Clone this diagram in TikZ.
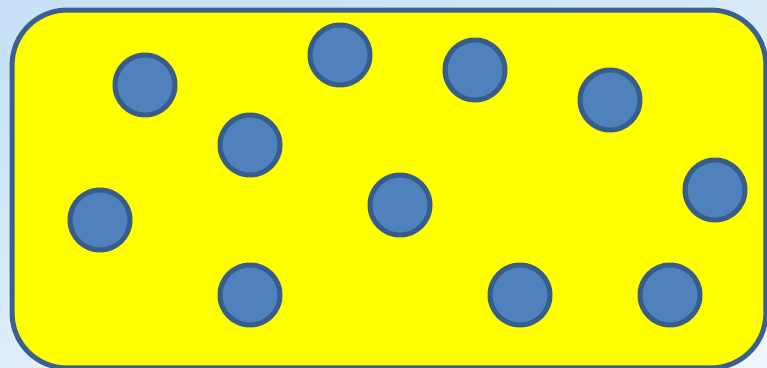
\documentclass[tikz,border=0pt]{standalone}
\usepackage{tikz}
\definecolor{BallBlue}{RGB}{79,129,189}
\definecolor{BallEdge}{RGB}{56,93,138}
\definecolor{TrayYellow}{RGB}{255,255,0}
\definecolor{TrayEdge}{RGB}{59,95,143}
\definecolor{SkyTop}{RGB}{200,225,246}
\definecolor{SkyLow}{RGB}{238,246,251}
\tikzset{
  tray/box/.style={
    draw=TrayEdge,
    line width=0.1cm,
    rounded corners=1.1cm,
    fill=TrayYellow,
    minimum width=15.08cm,
    minimum height=7.16cm,
    inner sep=0pt
  },
  tray/ball/.style={
    circle,
    draw=BallEdge,
    line width=0.1cm,
    fill=BallBlue,
    minimum size=1.2cm,
    inner sep=0pt
  }
}

\begin{document}
\begin{tikzpicture}[x=0.02cm,y=-0.02cm]
  \shade[top color=SkyTop,bottom color=SkyLow,shading angle=20] (0,0) rectangle (767,368);
  \useasboundingbox (0,0) rectangle (767,368);
  \node[tray/box] (tray) at (389,189) {};
  \node[tray/ball] (b1) at (145,85) {};
  \node[tray/ball] (b2) at (340,55) {};
  \node[tray/ball] (b3) at (475,70) {};
  \node[tray/ball] (b4) at (610,100) {};
  \node[tray/ball] (b5) at (250,145) {};
  \node[tray/ball] (b6) at (100,220) {};
  \node[tray/ball] (b7) at (400,205) {};
  \node[tray/ball] (b8) at (715,190) {};
  \node[tray/ball] (b9) at (250,295) {};
  \node[tray/ball] (b10) at (520,295) {};
  \node[tray/ball] (b11) at (670,295) {};
\end{tikzpicture}
\end{document}
